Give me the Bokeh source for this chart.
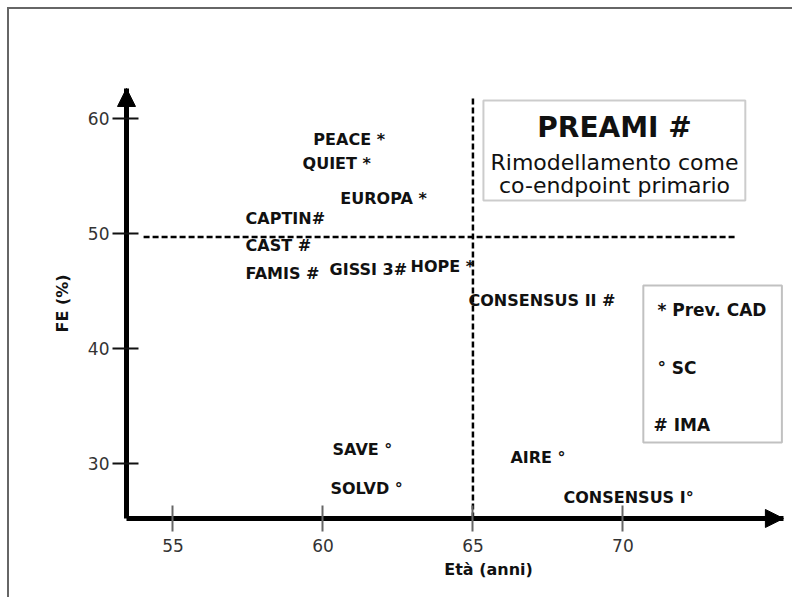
import math
from bokeh.plotting import figure
from bokeh.models import Range1d, FixedTicker, Label, BoxAnnotation, Arrow, NormalHead
from bokeh.embed import file_html
from bokeh.resources import INLINE
from bokeh.core.properties import value

# ---- data ----
trials = ["PEACE *", "QUIET *", "EUROPA *", "CAPTIN#", "CAST #", "FAMIS #",
          "GISSI 3#", "HOPE *", "CONSENSUS II #", "SAVE °", "SOLVD °",
          "AIRE °", "CONSENSUS I°"]
age = [59.68, 59.32, 60.58, 57.42, 57.42, 57.42, 60.22, 62.92, 64.85,
       60.32, 60.25, 66.25, 68.02]
fe = [58.18, 56.09, 53.05, 51.31, 48.97, 46.54, 46.88, 47.14, 44.19,
      31.24, 27.86, 30.55, 27.07]
x_ticks = [55, 60, 65, 70]
y_ticks = [30, 40, 50, 60]
age_cut = 65
fe_cut = 49.7
legend_items = ["* Prev. CAD", "° SC", "# IMA"]
title_lines = ["PREAMI #", "Rimodellamento come", "co-endpoint primario"]

FONT = "DejaVu Sans"
AX_X0, AX_X1 = 53.45, 75.35     # extent of the drawn x axis (origin .. arrow tip)
AX_Y0, AX_Y1 = 25.25, 62.61     # extent of the drawn y axis

p = figure(width=785, height=590, x_range=Range1d(49.55, 75.72), y_range=Range1d(18.21, 69.47),
           output_backend="svg", toolbar_location=None,
           min_border_left=0, min_border_right=0, min_border_top=0, min_border_bottom=0)
p.styles = {"margin-left": "7px", "margin-top": "7px",
            "border-left": "2px solid #666", "border-top": "2px solid #666"}
p.outline_line_color = None
p.xgrid.visible = False
p.ygrid.visible = False
p.background_fill_color = "white"
p.border_fill_color = "white"

for ax in (p.xaxis[0], p.yaxis[0]):
    ax.axis_line_width = 5
    ax.axis_line_color = "black"
    ax.minor_tick_line_color = None
    ax.major_label_text_font = FONT
    ax.major_label_text_font_size = "17px"
    ax.major_label_text_color = "#333333"
    ax.major_tick_line_width = 2

p.xaxis.fixed_location = AX_Y0
p.xaxis.bounds = (AX_X0, AX_X1)
p.xaxis.ticker = FixedTicker(ticks=x_ticks)
p.xaxis.major_tick_in = 13
p.xaxis.major_tick_out = 13
p.xaxis.major_tick_line_color = "#666666"
p.xaxis.major_label_standoff = 8

p.yaxis.fixed_location = AX_X0
p.yaxis.bounds = (AX_Y0, AX_Y1)
p.yaxis.ticker = FixedTicker(ticks=y_ticks)
p.yaxis.major_tick_in = 12
p.yaxis.major_tick_out = 14
p.yaxis.major_tick_line_color = "#111111"
p.yaxis.major_label_standoff = 3

# arrow heads at the ends of the axes
p.add_layout(Arrow(end=NormalHead(size=18, fill_color="black", line_color="black"),
                   x_start=AX_X1 - 0.4, y_start=AX_Y0, x_end=AX_X1, y_end=AX_Y0, line_width=5))
p.add_layout(Arrow(end=NormalHead(size=18, fill_color="black", line_color="black"),
                   x_start=AX_X0, y_start=AX_Y1 - 1.0, x_end=AX_X0, y_end=AX_Y1, line_width=5))

# dashed reference lines
p.segment(x0=[54.02], y0=[fe_cut], x1=[73.82], y1=[fe_cut],
          line_color="black", line_width=2.5, line_dash="6 3")
p.segment(x0=[age_cut], y0=[AX_Y0], x1=[age_cut], y1=[62.0],
          line_color="black", line_width=2.5, line_dash="6 3")

# trial labels
p.text(x=age, y=fe, text=trials, text_font=value(FONT), text_font_style="bold",
       text_font_size="16px", text_baseline="middle", text_align="left",
       text_color="#111111")

# title box
p.add_layout(BoxAnnotation(left=65.35, right=74.08, bottom=52.88, top=61.57,
                           fill_color=None, line_color="#555555", line_width=2))
for txt, yy, size, style in zip(title_lines, [59.22, 56.18, 54.18],
                                ["28px", "22px", "22px"], ["bold", "normal", "normal"]):
    p.add_layout(Label(x=69.72, y=yy, text=txt, text_align="center", text_baseline="middle",
                       text_font=FONT, text_font_style=style, text_font_size=size,
                       text_color="#111111"))

# legend box
p.add_layout(BoxAnnotation(left=70.68, right=75.3, bottom=31.85, top=45.49,
                           fill_color=None, line_color="#333333", line_width=2))
for txt, xx, yy in zip(legend_items, [71.15, 71.15, 71.02], [43.32, 38.28, 33.33]):
    p.add_layout(Label(x=xx, y=yy, text=txt, text_align="left", text_baseline="middle",
                       text_font=FONT, text_font_style="bold", text_font_size="17px",
                       text_color="#111111"))

# axis titles
p.add_layout(Label(x=65.52, y=20.82, text="Età (anni)", text_align="center",
                   text_baseline="middle", text_font=FONT, text_font_style="bold",
                   text_font_size="16px", text_color="#111111"))
p.add_layout(Label(x=51.32, y=43.93, text="FE (%)", angle=math.pi / 2, text_align="center",
                   text_baseline="middle", text_font=FONT, text_font_style="bold",
                   text_font_size="16px", text_color="#111111"))

open("out.html", "w").write(file_html(p, INLINE))
